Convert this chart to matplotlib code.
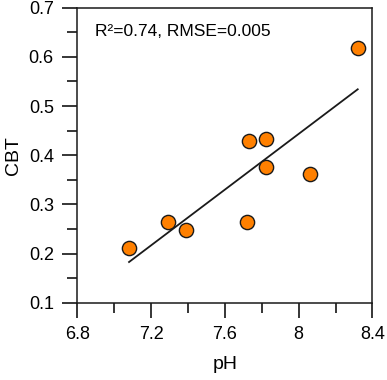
import numpy as np
import matplotlib
matplotlib.use("Agg")
import matplotlib.pyplot as plt
from matplotlib.ticker import MultipleLocator

plt.rcParams['font.family'] = ['Liberation Sans', 'DejaVu Sans']

# observed points
ph = [7.08, 7.29, 7.39, 7.72, 7.73, 7.82, 7.82, 8.06, 8.32]
cbt = [0.211, 0.265, 0.248, 0.265, 0.429, 0.433, 0.376, 0.361, 0.617]

# fitted line end points
fit_x = [7.08, 8.32]
fit_y = [0.183, 0.534]

annot = "R\u00b2=0.74, RMSE=0.005"

fig = plt.figure(figsize=(3.87, 3.80), dpi=100)
ax = fig.add_axes([0.20, 0.203, 0.7625, 0.777])

ax.plot(fit_x, fit_y, color='#1a1a1a', linewidth=1.3, zorder=2)
ax.scatter(ph, cbt, s=105, facecolor='#ff8000', edgecolor='#1a1a1a', linewidth=1.0, zorder=3)

ax.set_xlim(6.8, 8.4)
ax.set_ylim(0.1, 0.7)
ax.xaxis.set_minor_locator(MultipleLocator(0.2))
ax.yaxis.set_minor_locator(MultipleLocator(0.05))
ax.set_xticks([6.8, 7.2, 7.6, 8.0, 8.4], ['6.8', '7.2', '7.6', '8', '8.4'])
ax.set_yticks([0.1, 0.2, 0.3, 0.4, 0.5, 0.6, 0.7], ['0.1', '0.2', '0.3', '0.4', '0.5', '0.6', '0.7'])

ax.tick_params(which='major', direction='out', length=11, width=1.1, labelsize=13, pad=6)
ax.tick_params(which='minor', direction='out', length=7.5, width=1.1)
ax.tick_params(top=False, right=False, which='both')
for sp in ax.spines.values():
    sp.set_linewidth(1.1)
    sp.set_color('#1a1a1a')

ax.set_xlabel('pH', fontsize=14, labelpad=9)
ax.set_ylabel('CBT', fontsize=14, labelpad=5)

ax.text(0.06, 0.92, annot, transform=ax.transAxes, fontsize=12.5, va='center', ha='left')

fig.savefig('out.png', dpi=100)
